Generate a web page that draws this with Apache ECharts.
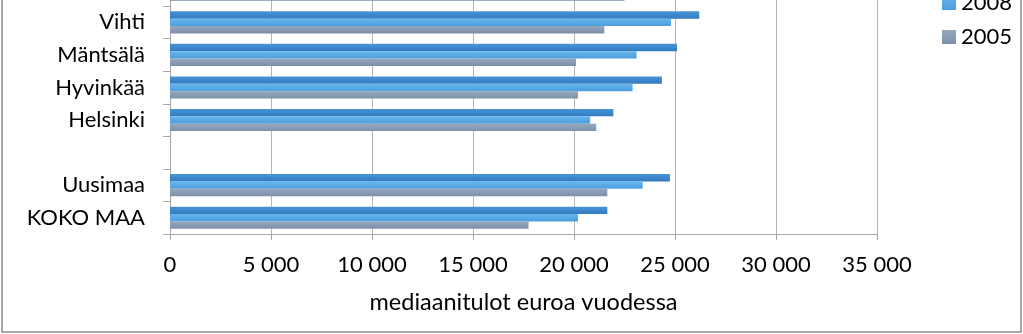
<!DOCTYPE html>
<html>
<head>
<meta charset="utf-8">
<script src="https://cdn.jsdelivr.net/npm/echarts@6/dist/echarts.min.js"></script>
<style>
  html, body { margin: 0; padding: 0; background: #fff; overflow: hidden; }
  #wrap { position: relative; width: 1023px; height: 334px; overflow: hidden; }
  #chart { position: absolute; left: 0; top: -60px; width: 1023px; height: 394px; }
</style>
</head>
<body>
<div id="wrap"><div id="chart"></div></div>
<script>
// Median income (euros per year), listed bottom to top
const categories = ['KOKO MAA', 'Uusimaa', '', 'Helsinki', 'Hyvinkää', 'Mäntsälä', 'Vihti', ''];
const years = ['2011', '2008', '2005'];
const values2011 = [21650, 24750, null, 21950, 24350, 25100, 26200, null];
const values2008 = [20200, 23400, null, 20800, 22900, 23100, 24800, null];
const values2005 = [17750, 21650, null, 21100, 20200, 20100, 21500, 22500];
const xTicks = { min: 0, max: 35000, step: 5000 };

const OFF = 60;
const FONT = 'Lato';
const fmt = v => String(v).replace(/\B(?=(\d{3})+(?!\d))/g, ' ');

function grad(top, mid, bottom) {
  return new echarts.graphic.LinearGradient(0, 0, 0, 1, [
    { offset: 0, color: top }, { offset: 0.5, color: mid }, { offset: 1, color: bottom }
  ]);
}

const chart = echarts.init(document.getElementById('chart'), null, { renderer: 'canvas' });
chart.setOption({
  animation: false,
  textStyle: { fontFamily: FONT },
  graphic: [{
    type: 'rect', silent: true, z: -1,
    shape: { x: 2, y: 0, width: 1019, height: 332 + OFF },
    style: { fill: 'none', stroke: '#8c8c8c', lineWidth: 1.5 }
  }],
  legend: {
    orient: 'vertical', left: 937, top: OFF - 47,
    data: years, icon: 'rect', itemWidth: 14, itemHeight: 14, itemGap: 12,
    textStyle: { fontFamily: FONT, fontSize: 22, color: '#000', lineHeight: 18 }
  },
  grid: { left: 170, right: 146, top: OFF - 26.5, bottom: 394 - (234 + OFF), containLabel: false },
  xAxis: {
    type: 'value', min: xTicks.min, max: xTicks.max, interval: xTicks.step,
    name: 'mediaanitulot euroa vuodessa', nameLocation: 'middle', nameGap: 56,
    nameTextStyle: { fontFamily: FONT, fontSize: 23.5, color: '#000' },
    axisLine: { show: true, lineStyle: { color: '#a6a6a6', width: 1 } },
    axisTick: { show: true, length: 6, lineStyle: { color: '#a6a6a6' } },
    axisLabel: { fontFamily: FONT, fontSize: 22, color: '#000', margin: 20, formatter: fmt },
    splitLine: { show: true, lineStyle: { color: '#b5b5b5', width: 1 } }
  },
  yAxis: {
    type: 'category', data: categories,
    axisLine: { show: true, lineStyle: { color: '#a6a6a6', width: 1 } },
    axisTick: { show: true, length: 7, lineStyle: { color: '#a6a6a6' } },
    axisLabel: { fontFamily: FONT, fontSize: 22, color: '#000', margin: 25 }
  },
  // first series sits at the top of each category band
  series: [
    { name: '2011', type: 'bar', data: values2011, barGap: '0%', barCategoryGap: '32%',
      itemStyle: { color: grad('#4a93d6', '#3c87cd', '#3479c0') } },
    { name: '2008', type: 'bar', data: values2008, barGap: '0%', barCategoryGap: '32%',
      itemStyle: { color: grad('#68b6ec', '#58a9e5', '#4d9edc') } },
    { name: '2005', type: 'bar', data: values2005, barGap: '0%', barCategoryGap: '32%',
      itemStyle: { color: grad('#96a7bd', '#8a9cb4', '#7d90aa') } }
  ]
});
</script>
</body>
</html>
